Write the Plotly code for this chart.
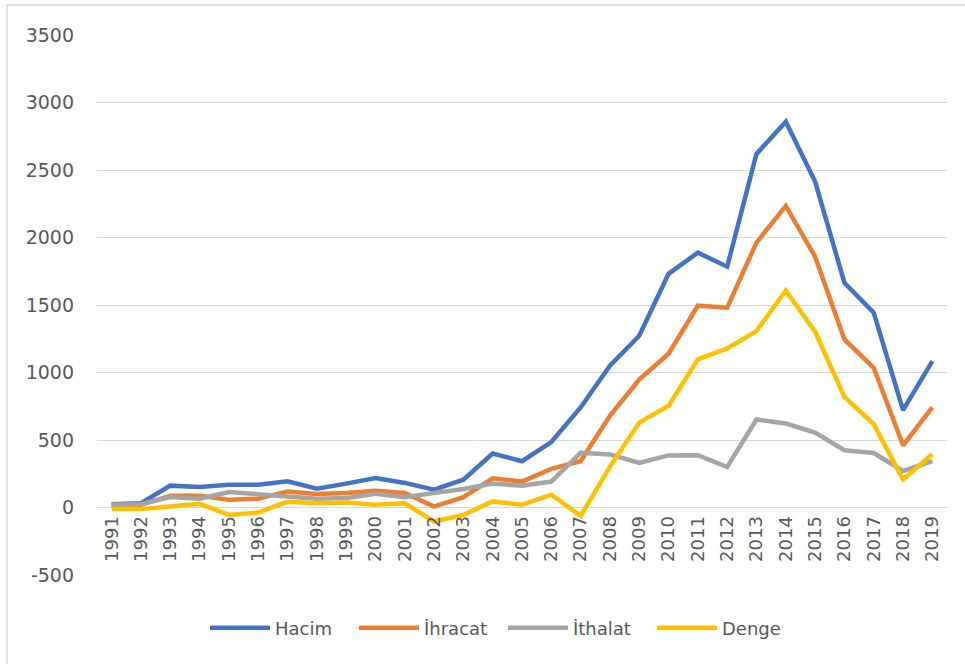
import plotly.graph_objects as go

years = [str(y) for y in range(1991, 2020)]

hacim = [25, 32, 162, 152, 169, 169, 194, 139, 177, 219, 182, 132, 206, 400, 343, 485,
         741, 1050, 1272, 1731, 1888, 1784, 2619, 2857, 2414, 1665, 1443, 721, 1084]
ihracat = [12, 20, 87, 87, 57, 65, 119, 100, 107, 124, 107, 7, 77, 216, 192, 286,
           343, 679, 947, 1139, 1495, 1480, 1962, 2234, 1858, 1245, 1035, 461, 741]
ithalat = [20, 25, 77, 65, 114, 102, 82, 65, 70, 102, 77, 107, 137, 177, 162, 192,
           405, 393, 331, 386, 387, 300, 652, 622, 555, 424, 404, 271, 343]
denge = [-12, -12, 7, 27, -55, -37, 42, 32, 37, 20, 32, -104, -55, 45, 20, 95,
         -62, 301, 629, 754, 1097, 1178, 1307, 1606, 1302, 820, 617, 207, 394]

series = [
    ("Hacim", hacim, "#4472C4"),
    ("İhracat", ihracat, "#ED7D31"),
    ("İthalat", ithalat, "#A5A5A5"),
    ("Denge", denge, "#FFC000"),
]

y_ticks = list(range(-500, 3501, 500))
y_ticktext = [str(v) for v in y_ticks]  # plain hyphen for negatives

fig = go.Figure()
for name, vals, color in series:
    fig.add_trace(go.Scatter(
        x=years, y=vals, name=name, mode="lines",
        line=dict(color=color, width=4.5),
    ))

W, H = 965, 664
ml, mr, mt, mb = 97, 18, 35, 89
pw, ph = W - ml - mr, H - mt - mb

def px_x(x):
    return (x - ml) / pw

def px_y(y):
    return (H - mb - y) / ph

fig.update_layout(
    width=W, height=H,
    margin=dict(l=ml, r=mr, t=mt, b=mb),
    paper_bgcolor="white", plot_bgcolor="white",
    font=dict(family="DejaVu Sans", size=18, color="#595959"),
    showlegend=True,
    legend=dict(
        orientation="h", x=px_x(205), xanchor="left", y=px_y(628), yanchor="middle",
        font=dict(size=18, color="#595959"), itemwidth=60,
        entrywidth=74, entrywidthmode="pixels",
        traceorder="normal",
    ),
    xaxis=dict(
        type="category", range=[-0.5, 28.5], showgrid=False, showline=False,
        zeroline=False, anchor="free", position=500 / 4000, tickangle=-90,
        ticks="", ticklabelstandoff=4,
        tickfont=dict(size=18, color="#595959"),
    ),
    yaxis=dict(
        range=[-500, 3500], tickvals=y_ticks, ticktext=y_ticktext,
        showgrid=True, gridcolor="#D9D9D9",
        gridwidth=1, zeroline=False, showline=False, ticks="",
        tickfont=dict(size=19, color="#595959"), ticklabelstandoff=22,
    ),
    shapes=[dict(
        type="rect", xref="paper", yref="paper", layer="below",
        x0=px_x(7), x1=px_x(975), y0=px_y(675), y1=px_y(5),
        line=dict(color="#D9D9D9", width=1.5), fillcolor="rgba(0,0,0,0)",
    )],
)

fig.write_html("out.html")
